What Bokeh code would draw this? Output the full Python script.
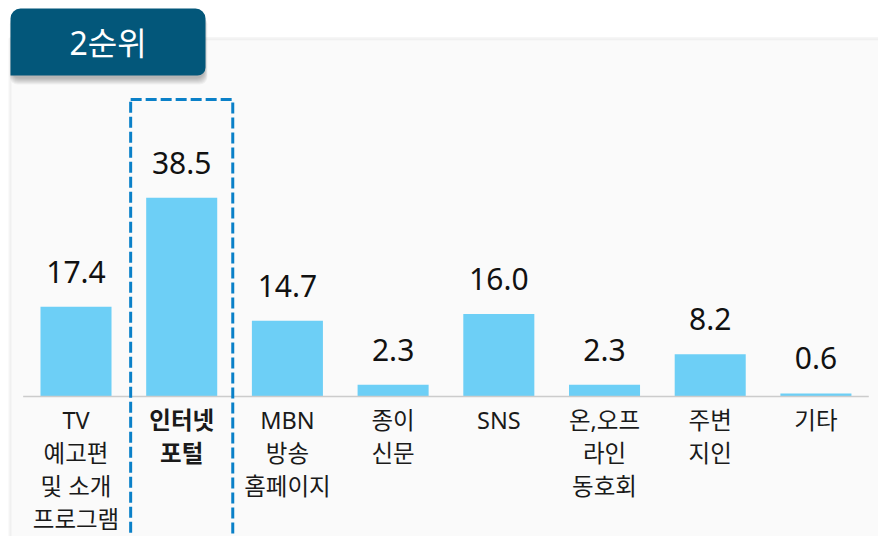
from bokeh.plotting import figure
from bokeh.models import Range1d, ColumnDataSource, BoxAnnotation, Label
from bokeh.core.properties import value
from bokeh.embed import file_html
from bokeh.resources import INLINE

# ---- data ----
categories = ["TV\n예고편\n및 소개\n프로그램", "인터넷\n포털", "MBN\n방송\n홈페이지", "종이\n신문",
              "SNS", "온,오프\n라인\n동호회", "주변\n지인", "기타"]
values = [17.4, 38.5, 14.7, 2.3, 16.0, 2.3, 8.2, 0.6]
value_labels = ["17.4", "38.5", "14.7", "2.3", "16.0", "2.3", "8.2", "0.6"]
highlight = "인터넷\n포털"
title = "2순위"

W, H = 878, 536
n = len(categories)
idx = list(range(n))
styles = ["bold" if c == highlight else "normal" for c in categories]
hi = categories.index(highlight)

src = ColumnDataSource(dict(x=idx, v=values, lab=value_labels, cat=categories,
                            st=styles, zero=[0] * n))

FONT = "Noto Sans, Noto Sans CJK KR"

p = figure(width=W, height=H, output_backend="svg", toolbar_location=None,
           x_range=Range1d(-0.7143, 7.592), y_range=Range1d(-27.13, 76.74),
           x_axis_location=None, y_axis_location=None,
           min_border=0, outline_line_color=None,
           background_fill_color="white", border_fill_color="white")
p.grid.visible = False
p.extra_x_ranges = {"px": Range1d(0, W)}
p.extra_y_ranges = {"py": Range1d(H, 0)}

# panel background with border
panel = BoxAnnotation(left=9.5, right=W + 40, top=38.3, bottom=H + 40,
                      x_range_name="px", y_range_name="py",
                      fill_color="#fafafa", fill_alpha=1,
                      line_color="#dadada", line_width=3, level="underlay")
p.add_layout(panel)

# bars
p.vbar(x="x", top="v", bottom=0, width=0.672, source=src,
       fill_color="#6dcff6", line_color=None)

# baseline
p.segment(x0=[idx[0] - 0.5], x1=[idx[-1] + 0.5], y0=[0], y1=[0],
          line_color="#cccccc", line_width=1.5)

# value labels
p.text(x="x", y="v", text="lab", source=src, text_align="center",
       text_baseline="alphabetic", y_offset=-35, text_font_size="30px",
       text_font=value("Noto Sans"), text_color="#111111")

# category labels
p.text(x="x", y="zero", text="cat", source=src, text_align="center",
       text_baseline="top", y_offset=7, text_font_size="23.5px",
       text_font=value(FONT), text_font_style="st", text_line_height=1.04,
       text_color="#1a1a1a")

# dashed highlight box
p.quad(left=[hi - 0.483], right=[hi + 0.483], top=[99], bottom=[H + 60],
       y_range_name="py", fill_alpha=0, line_color="#0a80c8",
       line_width=3, line_dash="11 4")

# title tab shadow
for k in range(7):
    p.add_layout(BoxAnnotation(left=11 - k * 0.3, right=204 + k * 0.5, top=14 + k * 0.3,
                               bottom=78 + k, x_range_name="px", y_range_name="py",
                               fill_color="black", fill_alpha=0.045,
                               line_color=None, border_radius=8, level="overlay"))
# title tab
p.add_layout(BoxAnnotation(left=10, right=205, top=8, bottom=75,
                           x_range_name="px", y_range_name="py",
                           fill_color="#03577a", fill_alpha=1, line_color=None,
                           border_radius=(10, 10, 8, 0), level="overlay"))
p.add_layout(Label(x=107.5, y=42, text=title, x_range_name="px", y_range_name="py",
                   text_align="center", text_baseline="middle", text_color="white",
                   text_font_size="32px", text_font=FONT, level="overlay"))

open("out.html", "w").write(file_html(p, INLINE))
